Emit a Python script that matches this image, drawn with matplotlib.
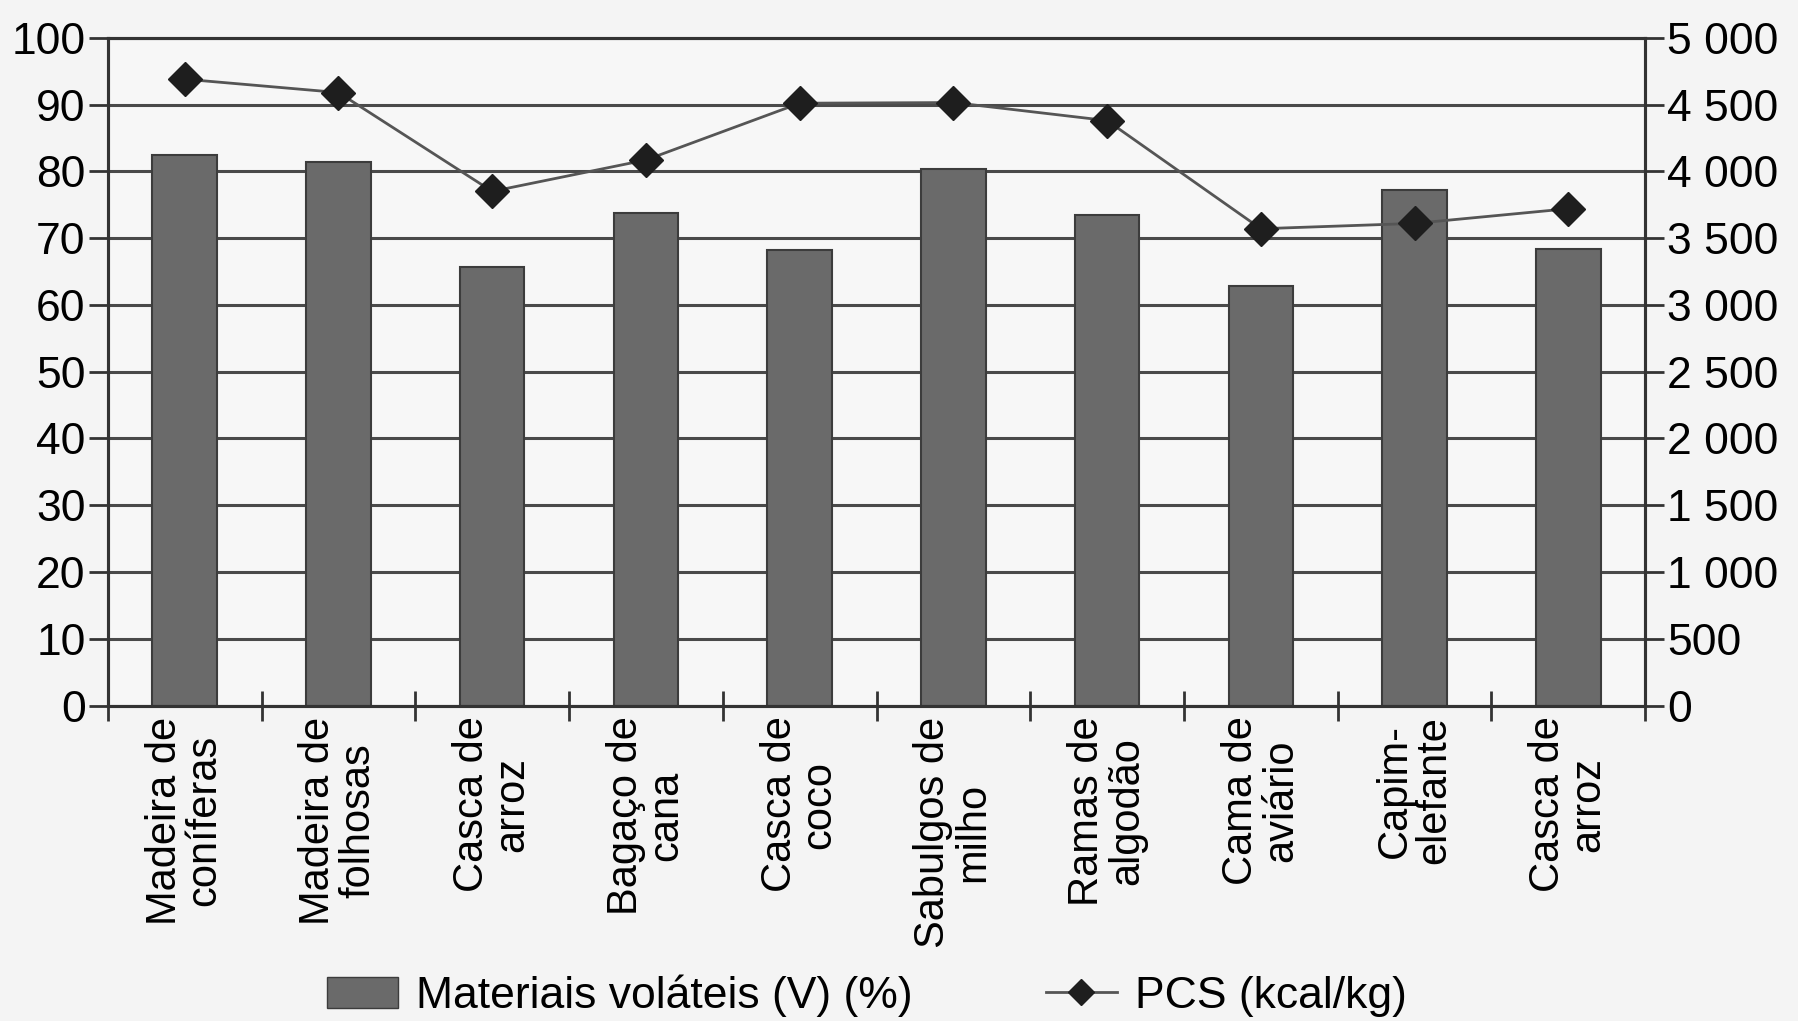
import matplotlib
matplotlib.use('Agg')
import matplotlib.pyplot as plt
from matplotlib.patches import Patch
from matplotlib.lines import Line2D
import numpy as np

plt.rcParams['font.family'] = ['Liberation Sans', 'DejaVu Sans']

# biomassas
categorias = ['Madeira de\nconíferas', 'Madeira de\nfolhosas', 'Casca de\narroz',
              'Bagaço de\ncana', 'Casca de\ncoco', 'Sabulgos de\nmilho',
              'Ramas de\nalgodão', 'Cama de\naviário', 'Capim-\nelefante',
              'Casca de\narroz']
# materiais voláteis (%)
volateis = [82.4, 81.4, 65.6, 73.8, 68.2, 80.4, 73.5, 62.8, 77.2, 68.3]
# poder calorífico superior (kcal/kg)
pcs = [4690, 4590, 3850, 4085, 4510, 4515, 4380, 3570, 3610, 3720]

ticks_v = [0, 10, 20, 30, 40, 50, 60, 70, 80, 90, 100]
ticks_pcs = [0, 500, 1000, 1500, 2000, 2500, 3000, 3500, 4000, 4500, 5000]

grid_col = '#4a4a4a'
fs = 30

fig = plt.figure(figsize=(17.98, 10.21), dpi=100)
fig.patch.set_facecolor('#f4f4f4')
ax = fig.add_axes([0.060, 0.309, 0.855, 0.654])
ax.set_facecolor('#f7f7f7')

x = np.arange(len(categorias))
ax.set_axisbelow(True)
ax.yaxis.grid(True, color=grid_col, lw=2.2)
ax.bar(x, volateis, width=0.42, color='#6a6a6a', edgecolor='#3c3c3c', lw=1.5, zorder=2)

ax.set_xlim(-0.5, len(categorias) - 0.5)
ax.set_ylim(0, 100)
ax.set_yticks(ticks_v)
ax.set_xticks(x)
ax.set_xticklabels(categorias, rotation=90, fontsize=fs, va='top', ha='center',
                   multialignment='center', linespacing=1.0)
ax.tick_params(axis='x', length=0, pad=8)
ax.set_xticks(np.arange(-0.5, len(categorias)), minor=True)
ax.tick_params(axis='x', which='minor', direction='inout', length=22, width=2, color='#333')
ax.tick_params(axis='y', labelsize=32, length=14, width=2, color='#333', pad=2)
for s in ax.spines.values():
    s.set_color('#333')
    s.set_linewidth(2.2)

ax2 = ax.twinx()
ax2.plot(x, pcs, color='#555555', lw=2, marker='D', markersize=17,
         markerfacecolor='#1e1e1e', markeredgecolor='#1e1e1e', zorder=3)
ax2.set_ylim(0, 5000)
ax2.set_yticks(ticks_pcs)
ax2.set_yticklabels([f'{t:,}'.replace(',', ' ') for t in ticks_pcs])
ax2.tick_params(axis='y', labelsize=32, length=14, width=2, color='#333', pad=2)
for s in ax2.spines.values():
    s.set_color('#333')
    s.set_linewidth(2.2)

handles = [Patch(facecolor='#6a6a6a', edgecolor='#3c3c3c'),
           Line2D([0], [0], color='#555555', lw=2, marker='D', markersize=13,
                  markerfacecolor='#1e1e1e', markeredgecolor='#1e1e1e')]
fig.legend(handles, ['Materiais voláteis (V) (%)', 'PCS (kcal/kg)'], loc='lower center',
           bbox_to_anchor=(0.482, -0.035), ncol=2, frameon=False, fontsize=32,
           handlelength=1.6, columnspacing=3.0, handletextpad=0.4)

fig.savefig('out.png', dpi=100, facecolor=fig.get_facecolor())
